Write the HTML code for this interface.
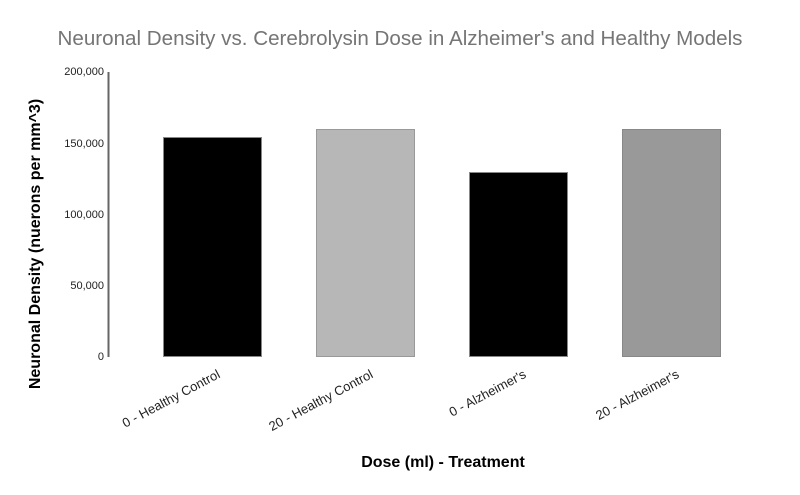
<!DOCTYPE html>
<html><head><meta charset="utf-8"><style>body{margin:0;background:#fff}svg{display:block}text{font-family:"Liberation Sans",Arial,sans-serif}</style></head>
<body>
<svg width="800" height="495" viewBox="0 0 800 495" xmlns="http://www.w3.org/2000/svg">
<rect width="800" height="495" fill="#fff"/>
<text x="400" y="45" text-anchor="middle" font-size="20.6" fill="#757575">Neuronal Density vs. Cerebrolysin Dose in Alzheimer's and Healthy Models</text>
<g font-size="11" fill="#222" text-anchor="end">
<text x="104" y="75">200,000</text>
<text x="104" y="147">150,000</text>
<text x="104" y="218">100,000</text>
<text x="104" y="289">50,000</text>
<text x="104" y="360">0</text>
</g>
<line x1="108.5" y1="72" x2="108.5" y2="357" stroke="#666" stroke-width="2"/>
<rect x="163.5" y="137.5" width="98" height="219" fill="#000" stroke="#888" stroke-width="1"/>
<rect x="316.5" y="129.5" width="98" height="227" fill="#b7b7b7" stroke="#999" stroke-width="1"/>
<rect x="469.5" y="172.5" width="98" height="184" fill="#000" stroke="#888" stroke-width="1"/>
<rect x="622.5" y="129.5" width="98" height="227" fill="#999" stroke="#888" stroke-width="1"/>
<g font-size="13" fill="#222" text-anchor="end">
<text transform="translate(221,377) rotate(-28)">0 - Healthy Control</text>
<text transform="translate(374,377) rotate(-28)">20 - Healthy Control</text>
<text transform="translate(527,377) rotate(-28)">0 - Alzheimer's</text>
<text transform="translate(680,377) rotate(-28)">20 - Alzheimer's</text>
</g>
<text x="443" y="467" text-anchor="middle" font-size="16" font-weight="bold" fill="#000">Dose (ml) - Treatment</text>
<text transform="translate(40,244) rotate(-90)" text-anchor="middle" font-size="16" font-weight="bold" fill="#000">Neuronal Density (nuerons per mm^3)</text>
</svg>
</body></html>
